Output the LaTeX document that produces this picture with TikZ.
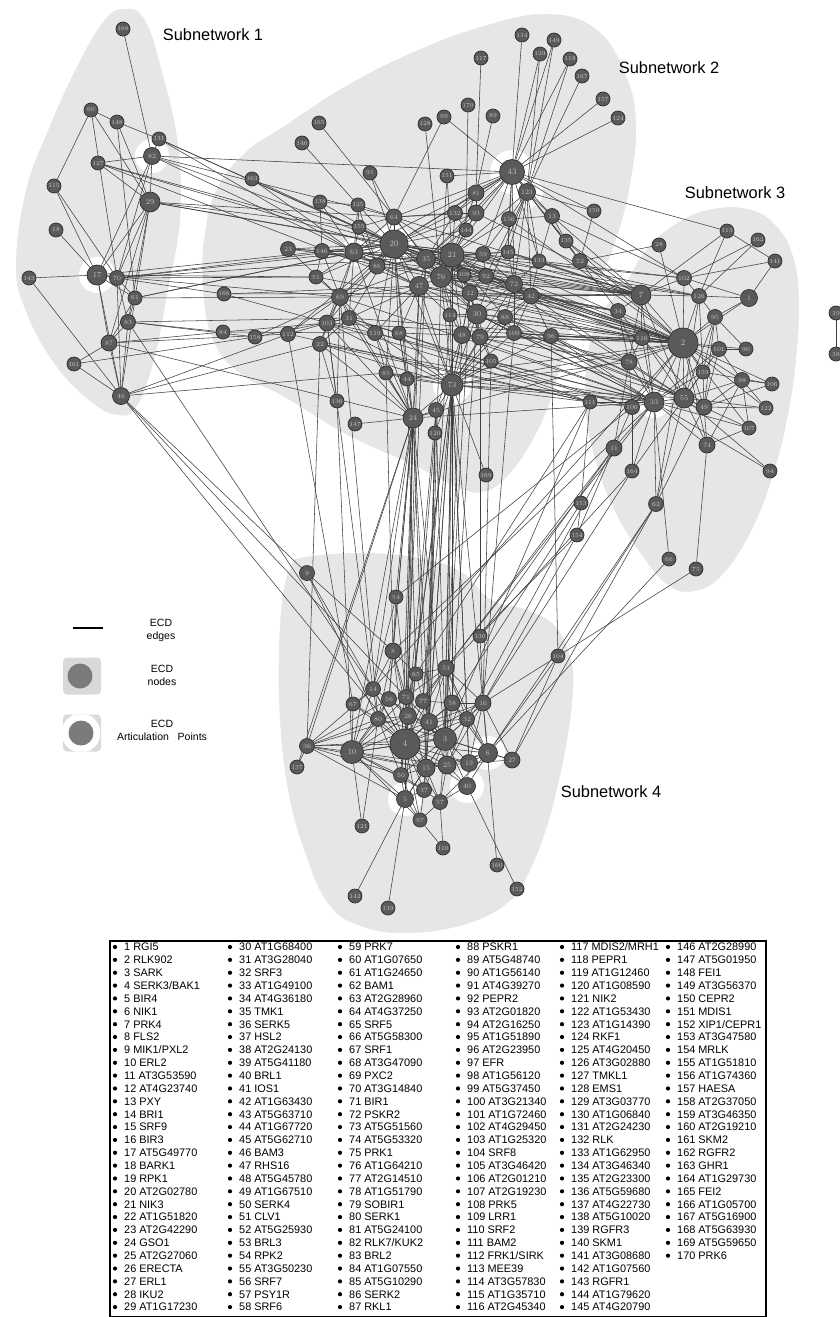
\documentclass[tikz,border=0pt]{standalone}
\usepackage{fontspec}
\newfontfamily\arial{Liberation Sans}
\definecolor{hullc}{HTML}{E6E6E6}
\definecolor{nodec}{HTML}{5A5A5A}
\definecolor{nodeb}{HTML}{2E2E2E}
\definecolor{labc}{HTML}{C8C8C8}
\definecolor{edgec}{HTML}{3E3E3E}
\definecolor{legc}{HTML}{7B7B7B}
\definecolor{legbox}{HTML}{D9D9D9}
\pgfdeclarelayer{bg}
\pgfdeclarelayer{edgelayer}
\pgfsetlayers{bg,edgelayer,main}
\begin{document}
\begin{tikzpicture}[x=1pt,y=-1pt,
  nd/.style={circle,fill=nodec,draw=nodeb,line width=0.7pt,inner sep=0pt,text=labc},
  edge/.style={draw=edgec,line width=0.55pt},
  hull/.style={fill=hullc,draw=white,line width=4pt},
  halo/.style={fill=white},
  subl/.style={font=\arial\fontsize{16.4}{18}\selectfont,inner sep=0pt},
  legt/.style={font=\arial\fontsize{10.5}{12}\selectfont,inner sep=0pt,align=center},
  tabt/.style={font=\arial\fontsize{10.9}{12}\selectfont,inner sep=0pt,anchor=base west}]
\useasboundingbox (0,0) rectangle (840,1317);
\begin{pgfonlayer}{bg}
\fill[white] (0,0) rectangle (840,1317);
\path[hull] plot[smooth cycle,tension=0.7] coordinates {(123,7) (146,18) (165,75) (180,145) (182,220) (170,290) (156,360) (138,408) (117,417) (88,402) (52,364) (24,312) (14,265) (24,190) (46,130) (74,68) (102,20)};
\path[hull] plot[smooth cycle,tension=0.7] coordinates {(547,12) (598,28) (628,75) (638,125) (632,185) (618,240) (600,283) (578,318) (564,360) (553,400) (535,440) (512,474) (487,493) (458,490) (413,467) (347,437) (282,398) (240,376) (212,343) (201,290) (203,232) (216,186) (245,150) (282,125) (347,83) (413,50) (480,25)};
\path[hull] plot[smooth cycle,tension=0.7] coordinates {(622,285) (645,248) (675,222) (712,207) (752,208) (779,226) (795,256) (801,300) (798,360) (790,415) (776,472) (754,530) (724,576) (695,593) (667,587) (640,556) (614,514) (595,466) (584,412) (586,352) (600,312)};
\path[hull] plot[smooth cycle,tension=0.7] coordinates {(300,556) (360,551) (420,556) (462,570) (492,598) (528,608) (558,626) (573,660) (575,690) (570,735) (560,785) (547,833) (530,875) (512,902) (470,925) (410,935) (360,928) (326,904) (302,850) (286,790) (278,720) (277,650) (281,594) (289,566)};
\foreach \x/\y/\rr in {152/156/17, 97/275/18, 512/172/22, 527/192/16, 452/385/19, 488/753/17, 467/786/17, 405/799/17, 654/402/16, 394/244/19, 354/252/14}
  \fill[halo] (\x,\y) circle (\rr pt);
\end{pgfonlayer}
% nodes
\foreach \nn/\x/\y/\rr in {
168/123/29/7, 60/91/110/7, 148/117/122/7, 131/159/139/7, 82/152/156/8.5, 127/98/163/7, 163/252/179/7, 115/54/186/7, 29/150/202/10, 18/56/230/7, 17/97/275/10, 70/117/278/7.5, 143/29/278/7, 61/135/298/7, 166/224/294/7, 83/128/322/7.5, 84/223/332/7, 158/255/337/7, 87/109/343/8, 161/74/364/7, 46/121/396/8.5,
134/522/35/7, 149/554/40/7, 129/540/54/7, 117/481/58/7, 118/570/59/7, 167/582/76/7, 157/603/99/7, 124/618/118/7, 170/468/105/7, 89/493/116/7, 99/444/117/7, 128/425/124/7, 165/319/123/7, 140/302/143/7, 43/512/172/12.5, 91/370/173/7, 151/447/176/7, 81/476/193/8, 123/527/192/8.5, 138/320/202/7, 125/358/205/7, 64/394/217/8, 132/455/213/7.5, 93/476/213/8, 156/509/219/7.5, 13/552/216/7.5, 150/594/211/7, 155/359/227/7, 144/466/230/7, 20/394/244/14, 23/288/249/7.5, 146/322/251/7.5, 63/354/252/9, 21/452/255/12, 35/426/259/9.5, 59/483/254/7.5, 145/508/252/7, 135/566/241/7, 133/539/261/7, 52/580/261/7.5, 86/377/266/8, 76/441/277/10.5, 108/464/275/7, 92/486/276/7.5, 51/316/277/7, 72/514/284/8.5, 47/419/286/9.5, 12/470/293/8, 42/531/296/8, 69/340/297/8.5, 103/327/323/8, 31/349/318/7.5, 112/288/334/7.5, 22/320/344/7.5, 119/375/333/7.5, 68/399/333/7, 114/450/315/7, 30/477/314/10, 88/505/317/7.5, 48/462/335/8.5, 79/480/337/8, 109/514/333/7.5, 96/551/336/7.5, 105/491/361/7, 85/386/373/7, 44/407/379/7, 73/452/385/11, 136/337/401/7, 45/436/410/7.5, 24/413/418/10, 147/355/424/7, 120/435/433/7, 169/486/475/7,
28/659/245/7, 113/727/231/7, 162/758/240/7, 141/775/261/7, 102/684/278/7.5, 7/641/295/10, 126/699/296/7.5, 1/749/298/8.5, 34/618/311/7.5, 95/715/317/7.5, 2/683/343/15, 116/642/338/7.5, 101/719/349/7.5, 90/746/349/7, 78/629/362/8, 159/703/372/7, 98/742/380/7.5, 106/772/384/7, 111/590/402/7, 100/632/407/7.5, 33/654/402/10, 55/684/398/10, 49/704/407/8, 122/766/408/7, 107/749/428/7, 74/707/445/8, 11/614/448/8, 164/632/471/7, 94/770/471/7, 153/581/503/7, 62/656/504/7.5, 154/577/535/7, 66/669/559/7, 75/696/569/7, 39/836/313/7, 38/836/354/7,
54/396/597/7, 9/307/573/7.5, 130/480/636/7, 104/558/656/7, 8/393/651/8, 53/446/668/8, 65/416/674/7, 14/373/689/7.5, 67/353/704/7, 56/389/699/7.5, 71/406/697/7.5, 77/423/701/7.5, 58/452/703/8, 16/483/703/8, 80/378/719/7.5, 26/408/716/8.5, 41/429/722/8.5, 32/467/719/7.5, 36/307/746/7.5, 10/352/752/11.5, 4/405/744/15, 3/445/739/11.5, 6/488/753/9.5, 27/512/760/8, 137/297/767/7, 50/401/775/7.5, 15/426/768/9, 25/447/765/9, 19/469/763/8.5, 40/467/786/8.5, 37/424/790/7.5, 5/405/799/8.5, 57/440/802/7.5, 97/420/820/7, 121/362/826/7, 110/443/848/7, 160/497/865/7, 152/517/889/7, 142/355/896/7, 139/388/908/7}
{
  \pgfmathsetmacro\fs{min(6.2+(\rr-7)*0.4,8.5)}
  \node[nd,minimum size={2*\rr pt},font=\fontsize{\fs}{\fs}\selectfont] (n\nn) at (\x,\y) {\nn};
}
\begin{pgfonlayer}{edgelayer}
\foreach \a/\b in {
168/82, 60/115, 60/148, 60/29, 60/70, 148/131, 148/29, 148/61, 131/82, 82/127, 82/29, 82/17, 82/70, 127/29, 115/17, 115/70, 29/17, 29/70, 29/61, 29/83, 29/87, 18/17, 143/17, 143/46, 17/70, 17/61, 17/87, 17/46, 70/61, 70/83, 61/83, 61/87, 83/87, 83/46, 87/46, 87/161, 161/46, 61/46, 70/46,
82/43, 82/20, 82/63, 82/64, 131/63, 131/20, 131/35, 127/20, 127/35, 127/47, 29/20, 29/64, 29/155, 29/21, 163/20, 163/63, 17/51, 17/20, 17/69, 70/20, 70/51, 70/63, 70/166, 70/21, 166/103, 166/47, 61/20, 61/63, 61/69, 83/84, 83/158, 83/31, 87/84, 87/112, 87/24, 161/158, 46/112, 46/85, 46/22, 84/103, 158/69, 158/31, 84/119, 166/12,
83/14, 46/9, 46/71, 46/4, 9/8, 9/4, 9/80,
134/43, 129/43, 149/43, 118/43, 167/123, 157/43, 124/43, 149/123, 129/123, 117/81, 170/144, 89/81, 99/43, 99/64, 128/76, 165/64, 140/125, 91/64, 91/20, 151/21, 151/76, 118/123,
20/64, 20/125, 20/138, 20/155, 20/63, 20/146, 20/23, 20/86, 20/35, 20/21, 20/47, 20/76, 20/43, 20/69, 20/103, 20/31, 20/51, 20/144, 20/93, 20/72, 20/42, 20/30, 20/12, 20/59, 20/92, 20/112, 20/119, 20/68, 20/85, 20/44, 20/108, 20/132, 20/81,
21/64, 21/43, 21/93, 21/81, 21/132, 21/144, 21/35, 21/76, 21/59, 21/108, 21/92, 21/12, 21/72, 21/42, 21/30, 21/47, 21/63, 21/86, 21/145, 21/156, 21/123, 21/114, 21/48, 21/79, 21/88, 21/69,
43/81, 43/93, 43/132, 43/123, 43/156, 43/35, 43/63, 43/151, 43/64, 43/72, 43/145, 43/13, 43/133, 43/52, 43/150, 43/59,
123/156, 123/13, 123/72, 123/133, 123/42, 123/30, 123/150, 123/145, 123/52, 123/135, 123/92,
63/125, 63/155, 63/138, 63/146, 63/23, 63/86, 63/35, 63/69, 63/103, 63/31, 63/51, 63/47, 63/76, 63/64,
64/125, 64/155, 64/35, 64/76, 64/86, 64/93, 64/132,
35/76, 35/47, 35/86, 35/12, 35/144, 35/59, 35/132, 35/93,
76/47, 76/12, 76/59, 76/108, 76/92, 76/72, 76/30, 76/114, 76/48,
47/86, 47/69, 47/12, 47/31, 47/119, 47/68, 47/114,
12/108, 12/92, 12/72, 12/42, 12/30, 12/48, 12/79,
59/92, 59/72, 59/108, 59/145, 59/156,
72/42, 72/133, 72/145, 72/92, 72/30, 72/88, 72/109,
42/133, 42/88, 42/109, 42/96, 42/30,
30/114, 30/48, 30/79, 30/88, 30/109,
69/103, 69/31, 69/86, 69/51, 69/146, 69/23, 69/22, 69/112, 69/119,
103/31, 103/112, 103/22, 103/119, 31/119, 31/68, 31/22, 86/146, 86/155, 86/125,
146/23, 146/51, 138/125, 138/146, 155/125, 144/132, 144/93, 93/81, 93/132, 81/132, 156/145, 156/13, 13/133, 133/145, 135/13, 48/79, 48/114, 79/88, 109/88, 96/109, 105/79, 105/30,
73/24, 73/45, 73/44, 73/85, 73/48, 73/79, 73/30, 73/88, 73/114, 73/12, 73/109, 73/105, 73/96, 73/42, 73/72, 73/76, 73/47, 73/22, 73/103, 73/119, 73/68, 73/169, 73/120, 73/21, 73/20,
24/45, 24/44, 24/85, 24/63, 24/20, 24/35, 24/47, 24/69, 24/31, 24/103, 24/147, 24/119, 24/68, 24/22,
45/120, 45/48, 85/44, 44/68, 85/119, 136/103, 136/22, 136/69,
20/7, 20/2, 21/7, 21/2, 21/55, 47/2, 47/33, 76/2, 76/7, 35/2, 35/7, 30/2, 30/33, 30/55, 12/2, 12/7, 72/2, 72/7, 42/2, 42/34, 42/7, 88/2, 88/33, 109/2, 109/55, 96/2, 96/33, 79/2, 48/33, 69/33, 103/2, 31/2, 119/100, 68/111, 112/111, 22/33, 63/7, 63/2, 64/7, 93/7, 59/7, 92/2, 133/7, 52/7, 52/2, 135/7, 135/2, 13/7, 145/7, 156/2, 43/102, 43/113, 21/102, 20/126, 35/116, 47/116, 86/34, 73/2, 73/33, 73/55, 73/78, 73/111, 20/102, 63/126, 69/7, 86/7, 23/7, 51/116, 146/34, 13/102, 133/126, 42/78, 92/116, 88/55, 109/78, 96/116, 96/55, 105/33, 114/2, 79/55, 48/78, 12/34, 59/2, 108/2, 24/33, 24/2, 44/2, 85/33, 22/111, 119/33, 68/2, 31/100, 103/111,
28/52, 28/2, 113/126, 113/141, 113/7, 162/102, 162/126, 141/102, 141/1, 102/7, 102/126, 150/52, 52/135, 52/34, 7/2, 7/34, 7/116, 7/126, 126/2, 126/95, 126/1, 1/95, 1/2, 95/2, 95/101, 95/159, 95/90, 2/116, 2/101, 2/78, 2/159, 2/33, 2/55, 2/49, 2/98, 2/34, 2/100, 2/74, 2/107, 2/90, 2/106, 2/122, 2/62, 101/90, 101/98, 101/55, 101/33, 101/49, 98/106, 98/49, 98/55, 98/74, 98/122, 106/49, 106/159, 122/49, 122/55, 107/98, 107/74, 107/55, 107/33, 74/75, 74/49, 74/33, 74/55, 94/33, 94/55, 111/33, 111/100, 100/33, 100/78, 100/164, 11/78, 11/154, 11/33, 164/33, 164/55, 62/33, 62/55, 62/49, 66/33, 78/33, 78/116, 78/55, 116/33, 116/55, 116/49, 159/33, 159/55, 159/49, 34/33, 34/78, 55/33, 49/33, 55/49, 153/154, 153/111, 11/100, 7/33, 7/55, 7/78, 102/2, 102/1, 126/55, 126/159, 95/55, 95/49, 34/116, 39/38,
66/6, 75/104, 62/104, 62/6, 62/27, 164/16, 11/53, 11/32, 153/58, 154/16, 154/53, 111/3, 104/6, 104/16, 104/27, 33/8, 100/54, 2/14, 33/53, 111/65, 11/130, 164/130,
24/4, 24/10, 24/26, 24/41, 24/3, 24/8, 24/14, 24/50, 24/15, 24/71, 24/56, 24/54, 24/36, 137/24, 73/4, 73/3, 73/41, 73/58, 73/53, 73/16, 73/32, 73/77, 73/25, 73/15, 73/26, 73/19, 45/3, 45/15, 45/26, 120/5, 120/37, 120/41, 79/130, 136/10, 35/4, 47/26, 76/41, 12/3, 96/104, 85/8, 44/65, 48/3, 30/58, 114/77, 103/14, 22/36, 112/67, 69/80, 105/16, 109/16,
4/10, 4/3, 4/26, 4/41, 4/15, 4/25, 4/50, 4/37, 4/5, 4/80, 4/71, 4/56, 4/14, 4/77, 4/58, 4/32, 4/19, 4/6, 4/40, 4/57, 4/97, 4/36, 4/8, 4/65, 4/53, 4/16, 4/67,
10/36, 10/80, 10/26, 10/14, 10/67, 10/121, 10/50, 10/5, 10/15, 10/3, 10/37, 10/56, 10/71, 10/97, 10/41, 10/25,
36/80, 36/26, 36/50, 36/5, 36/15, 36/3, 36/14, 36/137, 36/56,
3/26, 3/41, 3/15, 3/25, 3/19, 3/6, 3/40, 3/57, 3/58, 3/32, 3/53, 3/16, 3/77, 3/71, 3/56, 3/80, 3/5, 3/37, 3/50, 3/27,
6/19, 6/25, 6/16, 6/32, 6/40, 6/27, 6/58, 6/53, 6/15, 6/57,
8/14, 8/56, 8/71, 8/26, 8/80, 8/65, 8/54, 54/14, 54/71,
53/58, 53/77, 53/41, 53/16, 53/32, 53/71, 53/26, 53/65,
16/58, 16/32, 16/19, 16/25, 16/41, 16/130, 16/160,
58/32, 58/41, 58/77, 58/25, 41/26, 41/77, 41/15, 41/25, 41/32, 26/71, 26/80, 26/56, 26/15, 26/50, 71/56, 71/77, 77/65, 56/80, 56/14, 14/80, 14/67, 67/80, 80/50, 50/5, 50/15, 50/37, 15/25, 15/37, 15/57, 25/19, 25/40, 25/57, 19/40, 19/27, 19/32, 40/57, 40/152, 37/5, 37/57, 37/97, 57/97, 57/110, 97/5, 97/110, 97/50, 5/142, 5/139, 5/15, 121/80, 32/25, 27/16, 65/71}
  \draw[edge] (n\a) -- (n\b);
\end{pgfonlayer}
% subnetwork labels
\node[subl] (s1) at (213,35) {Subnetwork 1};
\node[subl] (s2) at (669,68) {Subnetwork 2};
\node[subl] (s3) at (735,193) {Subnetwork 3};
\node[subl] (s4) at (611,792) {Subnetwork 4};
% legend
\coordinate (la) at (73,628);
\coordinate (lb) at (103,628);
\draw[line width=1.3pt] (la) -- (lb);
\node[legt] (le) at (161,630) {ECD\\[1pt]edges};
\node[draw=none,fill=legbox,rounded corners=4pt,minimum width=38pt,minimum height=37pt,inner sep=0pt] (lbox1) at (82,676) {};
\node[circle,fill=legc,minimum size=25pt,inner sep=0pt] (lc1) at (80,676) {};
\node[legt] (ln) at (162,675) {ECD\\[1pt]nodes};
\node[draw=none,fill=legbox,rounded corners=4pt,minimum width=38pt,minimum height=37pt,inner sep=0pt] (lbox2) at (82,733) {};
\begin{scope}
\clip[rounded corners=4pt] (63,714.5) rectangle (101,751.5);
\fill[white] (81,733) circle (19.5pt);
\end{scope}
\node[circle,fill=legc,minimum size=25pt,inner sep=0pt] (lc2) at (81,733) {};
\node[legt] (la2) at (162,730) {ECD\\[1pt]Articulation\ \ \ Points};
% table
\node[draw,line width=1.5pt,minimum width=656pt,minimum height=376pt,inner sep=0pt,anchor=north west] (tab) at (109,940) {};
\foreach \tx [count=\i from 0] in {1 RGI5, 2 RLK902, 3 SARK, 4 SERK3/BAK1, 5 BIR4, 6 NIK1, 7 PRK4, 8 FLS2, 9 MIK1/PXL2, 10 ERL2, 11 AT3G53590, 12 AT4G23740, 13 PXY, 14 BRI1, 15 SRF9, 16 BIR3, 17 AT5G49770, 18 BARK1, 19 RPK1, 20 AT2G02780, 21 NIK3, 22 AT1G51820, 23 AT2G42290, 24 GSO1, 25 AT2G27060, 26 ERECTA, 27 ERL1, 28 IKU2, 29 AT1G17230,
30 AT1G68400, 31 AT3G28040, 32 SRF3, 33 AT1G49100, 34 AT4G36180, 35 TMK1, 36 SERK5, 37 HSL2, 38 AT2G24130, 39 AT5G41180, 40 BRL1, 41 IOS1, 42 AT1G63430, 43 AT5G63710, 44 AT1G67720, 45 AT5G62710, 46 BAM3, 47 RHS16, 48 AT5G45780, 49 AT1G67510, 50 SERK4, 51 CLV1, 52 AT5G25930, 53 BRL3, 54 RPK2, 55 AT3G50230, 56 SRF7, 57 PSY1R, 58 SRF6,
59 PRK7, 60 AT1G07650, 61 AT1G24650, 62 BAM1, 63 AT2G28960, 64 AT4G37250, 65 SRF5, 66 AT5G58300, 67 SRF1, 68 AT3G47090, 69 PXC2, 70 AT3G14840, 71 BIR1, 72 PSKR2, 73 AT5G51560, 74 AT5G53320, 75 PRK1, 76 AT1G64210, 77 AT2G14510, 78 AT1G51790, 79 SOBIR1, 80 SERK1, 81 AT5G24100, 82 RLK7/KUK2, 83 BRL2, 84 AT1G07550, 85 AT5G10290, 86 SERK2, 87 RKL1,
88 PSKR1, 89 AT5G48740, 90 AT1G56140, 91 AT4G39270, 92 PEPR2, 93 AT2G01820, 94 AT2G16250, 95 AT1G51890, 96 AT2G23950, 97 EFR, 98 AT1G56120, 99 AT5G37450, 100 AT3G21340, 101 AT1G72460, 102 AT4G29450, 103 AT1G25320, 104 SRF8, 105 AT3G46420, 106 AT2G01210, 107 AT2G19230, 108 PRK5, 109 LRR1, 110 SRF2, 111 BAM2, 112 FRK1/SIRK, 113 MEE39, 114 AT3G57830, 115 AT1G35710, 116 AT2G45340,
117 MDIS2/MRH1, 118 PEPR1, 119 AT1G12460, 120 AT1G08590, 121 NIK2, 122 AT1G53430, 123 AT1G14390, 124 RKF1, 125 AT4G20450, 126 AT3G02880, 127 TMKL1, 128 EMS1, 129 AT3G03770, 130 AT1G06840, 131 AT2G24230, 132 RLK, 133 AT1G62950, 134 AT3G46340, 135 AT2G23300, 136 AT5G59680, 137 AT4G22730, 138 AT5G10020, 139 RGFR3, 140 SKM1, 141 AT3G08680, 142 AT1G07560, 143 RGFR1, 144 AT1G79620, 145 AT4G20790,
146 AT2G28990, 147 AT5G01950, 148 FEI1, 149 AT3G56370, 150 CEPR2, 151 MDIS1, 152 XIP1/CEPR1, 153 AT3G47580, 154 MRLK, 155 AT1G51810, 156 AT1G74360, 157 HAESA, 158 AT2G37050, 159 AT3G46350, 160 AT2G19210, 161 SKM2, 162 RGFR2, 163 GHR1, 164 AT1G29730, 165 FEI2, 166 AT1G05700, 167 AT5G16900, 168 AT5G63930, 169 AT5G59650, 170 PRK6}
{
  \pgfmathtruncatemacro\cc{floor(\i/29)}
  \pgfmathtruncatemacro\rw{mod(\i,29)}
  \pgfmathsetmacro\bx{{115,230,340,458,562,668}[\cc]}
  \pgfmathsetmacro\by{947+12.86*\rw}
  \fill (\bx,\by) circle (2.1pt);
  \node[tabt] (t\i) at (\bx+9,\by+3.9) {\tx};
}
\end{tikzpicture}
\end{document}
